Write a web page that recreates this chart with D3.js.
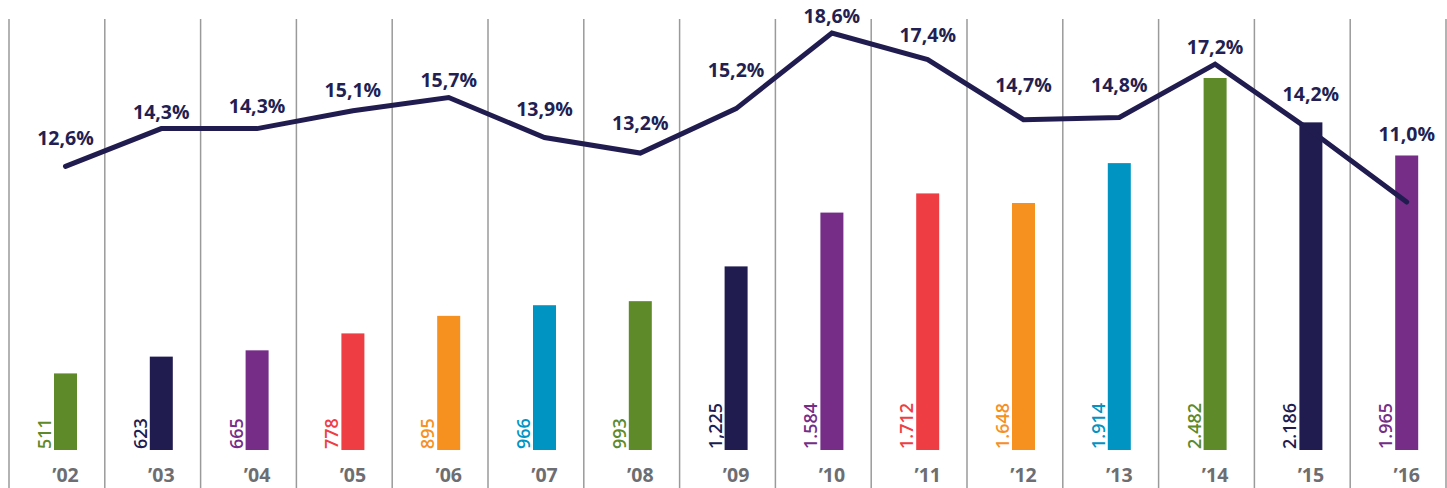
<!DOCTYPE html>
<meta charset="utf-8">
<svg width="1447" height="488"></svg>
<script src="https://d3js.org/d3.v7.min.js"></script>
<style>
    body { margin: 0; background: #fff; }
    svg { display: block; }
    text { font-family: 'Open Sans', sans-serif; }
    .pct { font-size: 19.5px; font-weight: 700; fill: #231f52; }
    .year { font-size: 19.5px; font-weight: 700; fill: #6d6e71; }
    .val { font-size: 18px; font-weight: 600; }
</style>
<script>
    var years = ["’02", "’03", "’04", "’05", "’06", "’07", "’08", "’09", "’10", "’11", "’12", "’13", "’14", "’15", "’16"];
    var values = [511, 623, 665, 778, 895, 966, 993, 1225, 1584, 1712, 1648, 1914, 2482, 2186, 1965];
    var valueLabels = ["511", "623", "665", "778", "895", "966", "993", "1,225", "1.584", "1.712", "1.648", "1.914", "2.482", "2.186", "1.965"];
    var pct = [12.6, 14.3, 14.3, 15.1, 15.7, 13.9, 13.2, 15.2, 18.6, 17.4, 14.7, 14.8, 17.2, 14.2, 11.0];
    var pctLabels = ["12,6%", "14,3%", "14,3%", "15,1%", "15,7%", "13,9%", "13,2%", "15,2%", "18,6%", "17,4%", "14,7%", "14,8%", "17,2%", "14,2%", "11,0%"];
    var palette = ["#5e8a2a", "#211c50", "#752d88", "#ee3e43", "#f6901f", "#0094c3"];

    var svg = d3.select("svg"),
        width = +svg.attr("width"),
        height = +svg.attr("height");

    var barW = 23, colW = 95.8, baseY = 450;

    var x = d3.scalePoint().domain(years).range([65.5, 65.5 + 14 * colW]);
    var yBar = d3.scaleLinear().domain([0, 2482]).range([baseY, 78]);
    var yPct = d3.scaleLinear().domain([11, 18.6]).range([202, 33]);
    var color = d3.scaleOrdinal().domain(d3.range(6)).range(palette);

    var data = years.map(function (y, i) {
        return {year: y, v: values[i], vl: valueLabels[i], p: pct[i], pl: pctLabels[i], i: i};
    });

    // vertical separators
    var grid = d3.range(years.length + 1).map(function (i) { return x(years[0]) - 56.5 + i * colW; });
    svg.append("g").selectAll("line")
        .data(grid)
        .enter().append("line")
        .attr("x1", function (d) { return d; })
        .attr("x2", function (d) { return d; })
        .attr("y1", 19)
        .attr("y2", height)
        .attr("stroke", "#9a9a9a")
        .attr("stroke-width", 1.5);

    // bars
    svg.append("g").selectAll("rect")
        .data(data)
        .enter().append("rect")
        .attr("x", function (d) { return x(d.year) - barW / 2; })
        .attr("y", function (d) { return yBar(d.v); })
        .attr("width", barW)
        .attr("height", function (d) { return baseY - yBar(d.v); })
        .attr("fill", function (d) { return color(d.i % 6); });

    // rotated value labels
    svg.append("g").selectAll("text")
        .data(data)
        .enter().append("text")
        .attr("class", "val")
        .attr("transform", function (d) {
            return "translate(" + (x(d.year) - barW / 2 - 3) + "," + (baseY - 1) + ")rotate(-90)";
        })
        .attr("fill", function (d) { return color(d.i % 6); })
        .text(function (d) { return d.vl; });

    // year labels
    svg.append("g").selectAll("text")
        .data(data)
        .enter().append("text")
        .attr("class", "year")
        .attr("x", function (d) { return x(d.year); })
        .attr("y", 482)
        .attr("text-anchor", "middle")
        .text(function (d) { return d.year; });

    // percentage line
    var line = d3.line()
        .x(function (d) { return x(d.year); })
        .y(function (d) { return yPct(d.p); });

    svg.append("path")
        .datum(data)
        .attr("d", line)
        .attr("fill", "none")
        .attr("stroke", "#211c50")
        .attr("stroke-width", 5)
        .attr("stroke-linecap", "round")
        .attr("stroke-linejoin", "miter");

    // place each label just above the line over its width (and above the bar)
    function lineYAt(px) {
        var best = null;
        for (var k = 0; k < data.length - 1; k++) {
            var x0 = x(data[k].year), x1 = x(data[k + 1].year);
            if (px >= x0 && px <= x1) {
                var t = (px - x0) / (x1 - x0);
                best = yPct(data[k].p) + t * (yPct(data[k + 1].p) - yPct(data[k].p));
            }
        }
        return best;
    }
    function labelY(d) {
        var cx = x(d.year), m = yPct(d.p);
        [-28, 28].forEach(function (o) {
            var v = lineYAt(cx + o);
            if (v !== null) m = Math.min(m, v);
        });
        return Math.min(m - 10, yBar(d.v) - 14);
    }

    svg.append("g").selectAll("text")
        .data(data)
        .enter().append("text")
        .attr("class", "pct")
        .attr("x", function (d) { return x(d.year); })
        .attr("y", labelY)
        .attr("text-anchor", "middle")
        .text(function (d) { return d.pl; });
</script>
